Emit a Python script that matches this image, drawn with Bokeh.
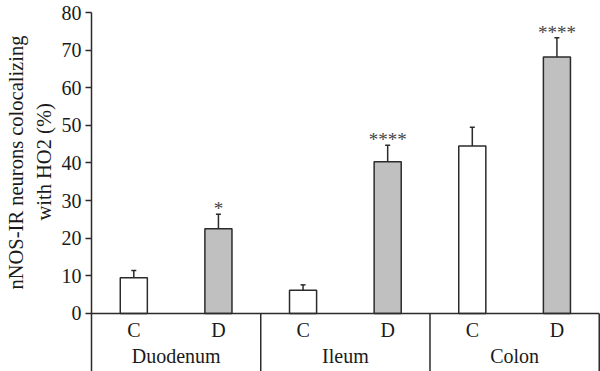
from bokeh.plotting import figure
from bokeh.models import Range1d, FixedTicker, Whisker, TeeHead, ColumnDataSource, Title
from bokeh.embed import file_html
from bokeh.resources import INLINE
from bokeh.core.properties import value

# ---- data ----
regions = ["Duodenum", "Ileum", "Colon"]
groups = ["C", "D", "C", "D", "C", "D"]
means = [9.5, 22.5, 6.2, 40.3, 44.5, 68.2]
errors = [1.9, 3.9, 1.4, 4.4, 5.0, 5.1]
stars = ["", "*", "", "****", "", "****"]
yticks = [0, 10, 20, 30, 40, 50, 60, 70, 80]
ylabel_lines = ["nNOS-IR neurons colocalizing", "with HO2 (%)"]

FONT = "Liberation Serif"
TXT = "#1a1a1a"
LINE = "#2b2b2b"

n = len(groups)
xs = [i + 0.5 for i in range(n)]
uppers = [m + e for m, e in zip(means, errors)]
star_y = [u + 1.5 for u in uppers]
fills = ["white" if g == "C" else "#c0c0c0" for g in groups]

ymin = -15.43
p = figure(width=600, height=371, output_backend="svg", toolbar_location=None,
           x_range=Range1d(0, 6.015), y_range=Range1d(ymin, 80),
           min_border_left=91, min_border_right=0, min_border_top=12, min_border_bottom=0)
p.outline_line_color = None
p.xgrid.visible = False
p.ygrid.visible = False
p.xaxis.visible = False
p.background_fill_color = "white"

yax = p.yaxis[0]
yax.ticker = FixedTicker(ticks=yticks)
yax.major_tick_in = 0
yax.major_tick_out = 6
yax.minor_tick_line_color = None
yax.axis_line_width = 1.5
yax.axis_line_color = LINE
yax.major_tick_line_color = LINE
yax.major_tick_line_width = 1.5
yax.major_label_text_font = FONT
yax.major_label_text_font_size = "20px"
yax.major_label_text_color = TXT
yax.major_label_standoff = 4

src = ColumnDataSource(dict(x=xs, top=means, upper=uppers, sy=star_y, fill=fills,
                            star=stars, grp=groups))

p.vbar(x="x", top="top", bottom=0, width=0.32, source=src, fill_color="fill",
       line_color=LINE, line_width=1.5)

w = Whisker(base="x", lower="top", upper="upper", source=src, dimension="height",
            line_color=LINE, line_width=1.5, lower_head=None,
            upper_head=TeeHead(size=5, line_color=LINE, line_width=1.5))
p.add_layout(w)

# zero line and group separators
p.segment(x0=[0], y0=[0], x1=[n], y1=[0], line_color=LINE, line_width=1.5)
sep_x = [2 * (k + 1) for k in range(len(regions))]
p.segment(x0=sep_x, y0=[0] * len(sep_x), x1=sep_x, y1=[ymin] * len(sep_x),
          line_color=LINE, line_width=1.5)

# category labels
p.text(x="x", y=-4.4, text="grp", source=src, text_align="center", text_baseline="middle",
       text_font=value(FONT), text_font_size=value("20px"), text_color=TXT)
p.text(x=[2 * k + 1 for k in range(len(regions))], y=[-11.2] * len(regions), text=regions,
       text_align="center", text_baseline="middle",
       text_font=value(FONT), text_font_size=value("20px"), text_color=TXT)

# significance stars
p.text(x="x", y="sy", text="star", source=src, text_align="center",
       text_baseline="alphabetic",
       text_font=value(FONT), text_font_size=value("19px"), text_color="#444444")

# y axis title (two lines)
p.add_layout(Title(text=ylabel_lines[1], align="left", offset=151, standoff=7,
                   text_font=FONT, text_font_size="20.5px", text_font_style="normal",
                   text_color=TXT), "left")
p.add_layout(Title(text=ylabel_lines[0], align="left", offset=82, standoff=2,
                   text_font=FONT, text_font_size="20.5px", text_font_style="normal",
                   text_color=TXT), "left")

open("out.html", "w").write(file_html(p, INLINE))
